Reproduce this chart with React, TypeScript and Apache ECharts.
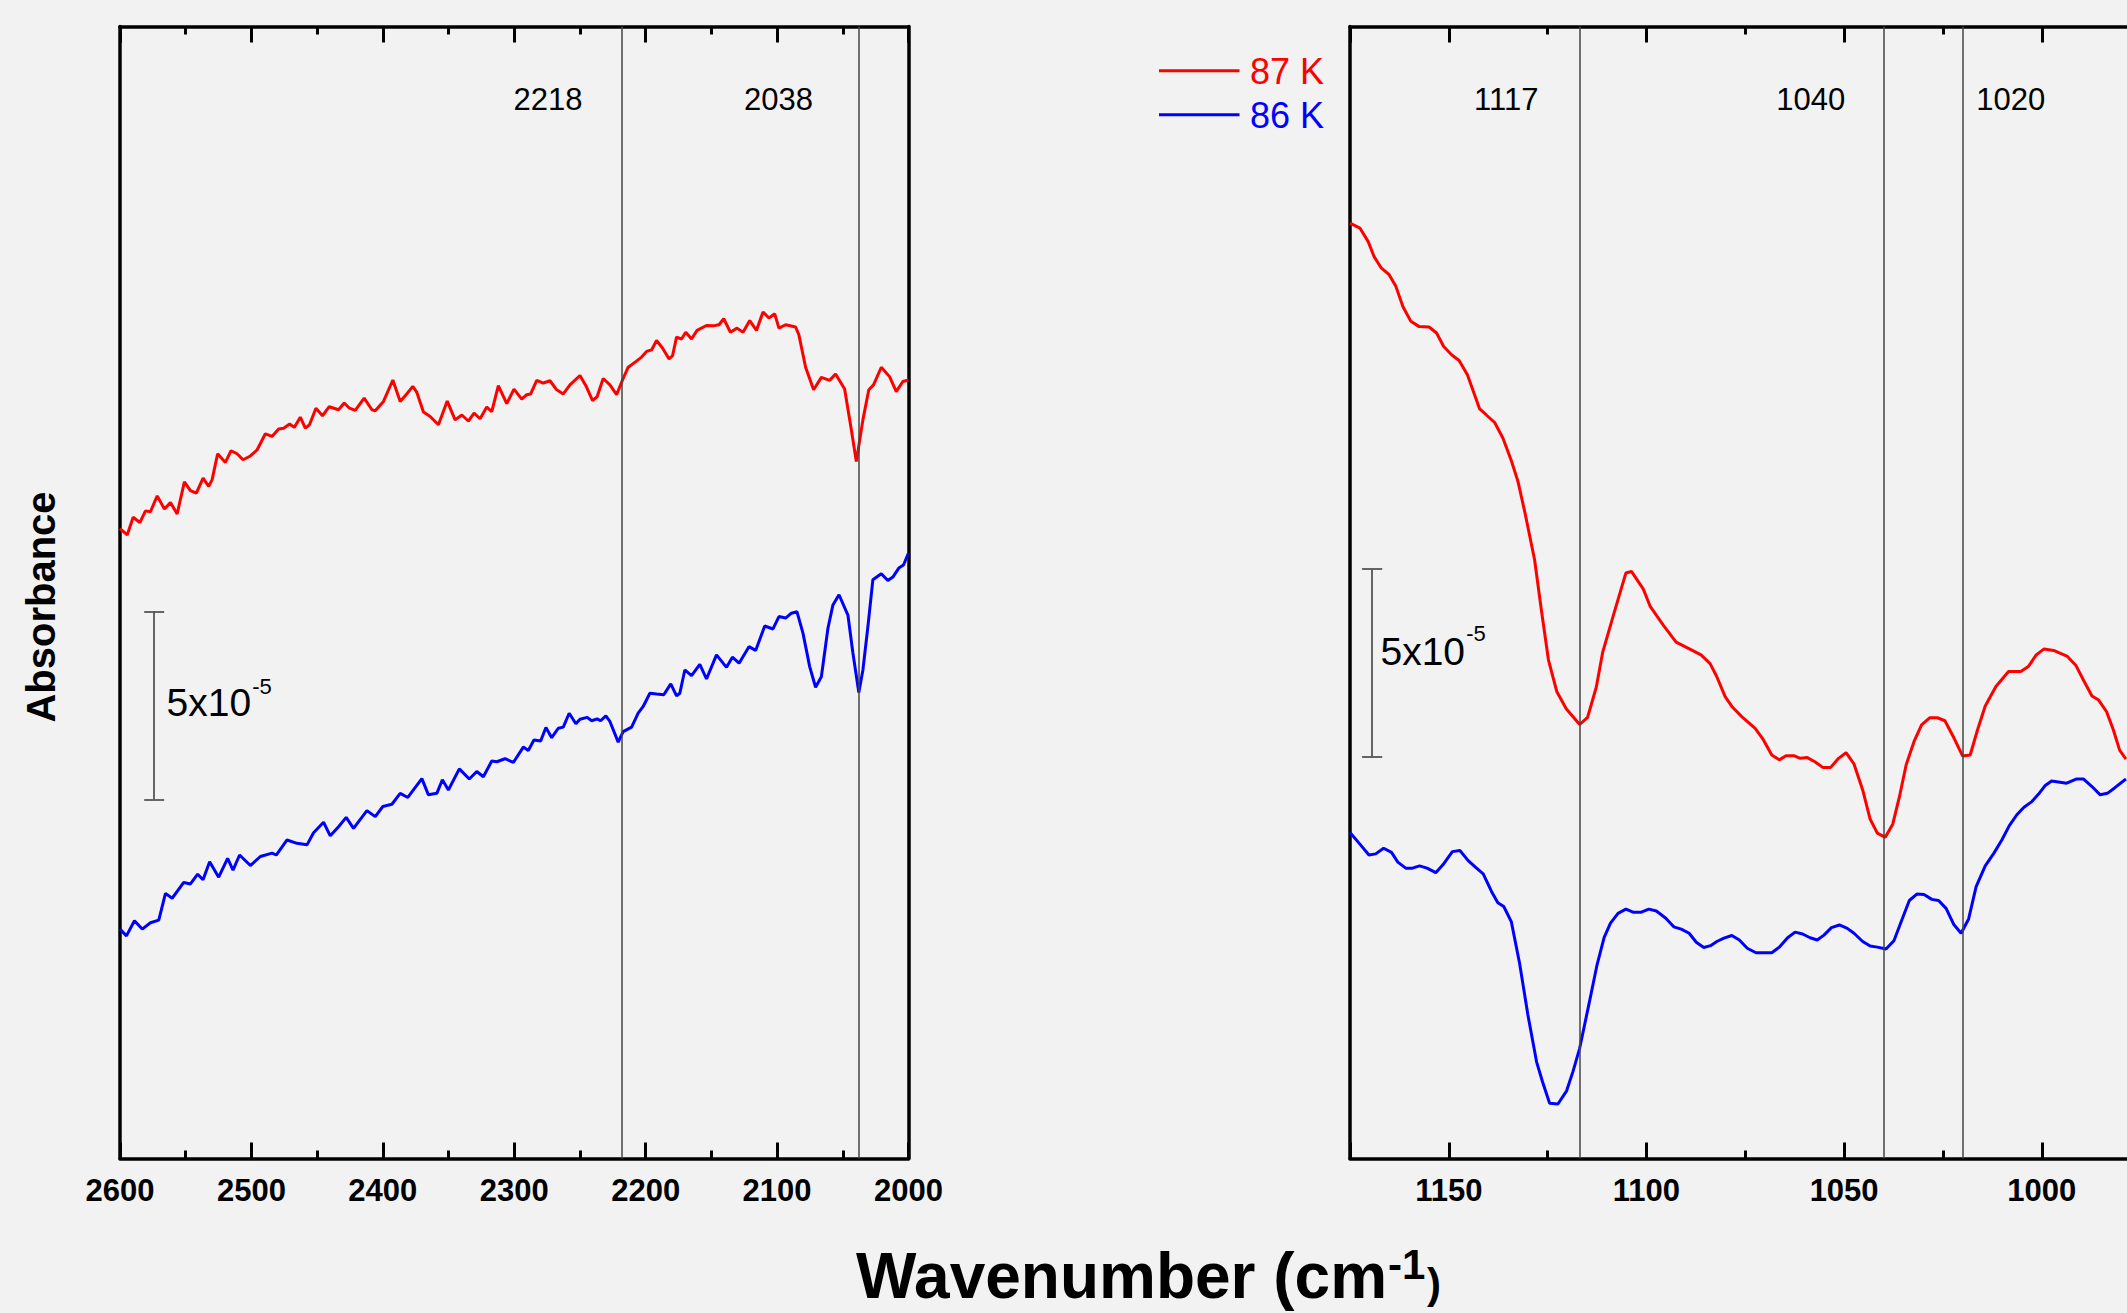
import React, { useEffect, useRef } from "react";
import * as echarts from "echarts";

// ---------- data (wavenumber cm^-1, absorbance in units of 1e-5, arbitrary offset) ----------
const leftRed: number[][] = [
  [2600,16.75],[2594.5,16.58],[2590.0,17.05],[2584.9,16.91],[2580.6,17.22],[2576.8,17.20],[2571.7,17.62],[2566.2,17.27],[2561.6,17.44],[2556.5,17.14],
  [2551.0,17.99],[2546.4,17.76],[2541.9,17.69],[2536.8,18.09],[2532.5,17.87],[2529.9,18.05],[2525.7,18.74],[2519.8,18.51],[2515.5,18.82],[2510.9,18.74],
  [2506.4,18.58],[2500.8,18.68],[2495.7,18.84],[2489.4,19.27],[2484.3,19.20],[2479.3,19.40],[2475.5,19.42],[2470.9,19.53],[2467.4,19.44],[2462.8,19.71],
  [2459.0,19.42],[2455.8,19.51],[2450.9,19.95],[2445.9,19.75],[2440.8,19.99],[2433.7,19.91],[2429.4,20.09],[2425.4,19.95],[2421.0,19.89],[2414.2,20.22],
  [2408.3,19.91],[2405.8,19.88],[2399.5,20.13],[2392.4,20.70],[2386.8,20.13],[2382.3,20.31],[2377.2,20.53],[2374.1,20.37],[2369.1,19.85],[2364.0,19.73],
  [2357.7,19.51],[2351.0,20.14],[2345.0,19.64],[2339.9,19.77],[2334.9,19.61],[2330.6,19.82],[2326.0,19.67],[2320.9,19.98],[2317.1,19.86],[2312.1,20.55],
  [2305.7,20.07],[2300.2,20.46],[2294.3,20.19],[2290.5,20.31],[2287.5,20.33],[2282.9,20.69],[2277.9,20.62],[2272.8,20.68],[2267.7,20.44],[2262.7,20.33],
  [2257.6,20.57],[2250.0,20.82],[2245.5,20.55],[2240.4,20.15],[2236.9,20.26],[2232.3,20.74],[2227.2,20.57],[2222.1,20.31],[2217.6,20.70],[2213.3,21.04],
  [2207.5,21.19],[2203.1,21.31],[2199.3,21.46],[2195.5,21.50],[2191.7,21.75],[2187.2,21.55],[2182.2,21.26],[2179.6,21.34],[2176.5,21.84],[2172.7,21.79],
  [2169.5,21.97],[2165.1,21.79],[2160.9,22.02],[2153.7,22.15],[2148.7,22.14],[2144.2,22.17],[2140.6,22.33],[2135.5,21.97],[2130.5,22.08],[2125.9,21.97],
  [2120.8,22.28],[2115.7,22.02],[2110.7,22.51],[2106.2,22.35],[2101.8,22.46],[2098.6,22.08],[2093.5,22.17],[2085.9,22.11],[2083.4,21.90],[2078.3,21.04],
  [2072.2,20.44],[2066.3,20.77],[2060.0,20.69],[2055.5,20.86],[2048.6,20.46],[2043.5,19.38],[2039.7,18.53],[2034.7,19.64],[2030.2,20.44],[2026.6,20.57],
  [2020.7,21.04],[2014.4,20.79],[2009.3,20.39],[2004.3,20.66],[2000,20.70]
];

const leftBlue: number[][] = [
  [2600,6.10],[2595.1,5.92],[2589.0,6.32],[2583.1,6.10],[2576.8,6.27],[2570.5,6.34],[2565.4,7.05],[2560.3,6.92],[2551.5,7.34],[2546.4,7.30],
  [2540.9,7.56],[2536.8,7.41],[2531.8,7.89],[2524.9,7.48],[2518.1,7.98],[2514.0,7.67],[2509.0,8.07],[2500.8,7.79],[2493.2,8.03],[2484.3,8.12],
  [2481.1,8.07],[2472.9,8.47],[2465.3,8.38],[2457.7,8.34],[2452.7,8.66],[2445.1,8.94],[2440.0,8.58],[2433.7,8.82],[2427.9,9.07],[2422.3,8.78],
  [2412.1,9.25],[2405.8,9.09],[2400.0,9.36],[2393.1,9.42],[2386.8,9.71],[2381.0,9.60],[2370.3,10.10],[2365.3,9.67],[2358.9,9.71],[2354.7,10.07],
  [2350.1,9.80],[2341.8,10.36],[2334.2,10.09],[2328.5,10.29],[2323.5,10.15],[2317.1,10.57],[2313.3,10.55],[2307.0,10.63],[2300.7,10.53],[2293.1,10.94],
  [2289.3,10.85],[2285.0,11.13],[2279.9,11.10],[2275.9,11.46],[2271.5,11.19],[2266.5,11.44],[2262.7,11.47],[2258.2,11.84],[2253.1,11.56],[2250.0,11.68],
  [2244.5,11.73],[2241.1,11.64],[2236.9,11.69],[2234.3,11.64],[2230.3,11.77],[2227.2,11.62],[2220.9,11.07],[2217.1,11.35],[2210.7,11.47],[2205.7,11.84],
  [2201.9,12.02],[2196.8,12.37],[2191.7,12.35],[2186.2,12.33],[2180.9,12.62],[2176.5,12.30],[2174.0,12.37],[2170.2,12.99],[2165.1,12.84],[2158.8,13.14],
  [2153.7,12.75],[2146.1,13.39],[2138.5,13.06],[2134.0,13.33],[2128.9,13.17],[2121.4,13.61],[2116.3,13.51],[2109.4,14.16],[2103.1,14.08],[2098.6,14.41],
  [2093.5,14.37],[2089.1,14.50],[2084.9,14.54],[2080.3,13.97],[2075.2,13.08],[2070.7,12.53],[2066.3,12.81],[2061.3,14.10],[2057.5,14.72],[2052.9,14.99],
  [2046.1,14.45],[2042.3,13.44],[2037.8,12.39],[2034.7,12.99],[2030.9,14.14],[2027.1,15.39],[2020.7,15.55],[2015.7,15.37],[2011.9,15.46],[2007.4,15.70],
  [2003.8,15.78],[2000,16.10]
];

const rightRed: number[][] = [
  [1175,24.87],[1172.5,24.74],[1170.4,24.38],[1168.9,23.98],[1167.1,23.68],[1165.1,23.50],[1163.4,23.19],[1161.6,22.65],[1159.6,22.26],[1157.5,22.12],
  [1155.0,22.11],[1153.1,21.95],[1151.3,21.59],[1149.3,21.37],[1147.4,21.22],[1145.3,20.84],[1142.2,19.93],[1140.5,19.77],[1138.4,19.57],[1136.3,19.15],
  [1134.2,18.56],[1132.5,18.00],[1130.8,17.20],[1128.3,15.92],[1126.6,14.59],[1124.8,13.26],[1122.7,12.42],[1120.3,11.96],[1116.9,11.54],[1114.9,11.73],
  [1112.7,12.53],[1111.1,13.45],[1108.3,14.47],[1105.2,15.57],[1103.8,15.61],[1100.8,15.14],[1099.1,14.69],[1095.8,14.19],[1092.5,13.73],[1088.4,13.51],
  [1086.2,13.39],[1083.9,13.16],[1082.2,12.81],[1080.1,12.28],[1078.4,12.02],[1075.9,11.75],[1072.5,11.44],[1070.4,11.13],[1068.3,10.73],[1066.4,10.60],
  [1064.7,10.71],[1062.7,10.71],[1061.1,10.64],[1059.3,10.66],[1057.4,10.55],[1055.4,10.40],[1053.4,10.40],[1051.4,10.64],[1049.5,10.79],[1047.5,10.49],
  [1045.3,9.80],[1043.4,9.02],[1041.6,8.65],[1039.6,8.54],[1037.7,8.89],[1036.0,9.62],[1034.3,10.47],[1032.3,11.09],[1030.4,11.53],[1028.3,11.72],
  [1026.4,11.72],[1024.5,11.64],[1022.2,11.18],[1020.0,10.70],[1018.1,10.73],[1016.3,11.38],[1014.3,12.03],[1011.6,12.55],[1008.4,12.95],[1005.3,12.95],
  [1003.4,13.08],[1001.4,13.39],[999.4,13.55],[997.0,13.51],[993.5,13.35],[991.3,13.10],[989.4,12.71],[987.3,12.30],[985.6,12.19],[983.6,11.88],
  [981.9,11.40],[980.3,10.86],[978.7,10.62]
];

const rightBlue: number[][] = [
  [1175,8.67],[1172.5,8.36],[1170.2,8.07],[1168.5,8.10],[1166.5,8.25],[1164.5,8.14],[1162.9,7.88],[1160.9,7.72],[1159.2,7.72],[1157.4,7.78],
  [1155.5,7.72],[1153.3,7.60],[1151.5,7.81],[1149.1,8.16],[1147.2,8.19],[1145.1,7.92],[1143.2,7.74],[1141.3,7.57],[1139.2,7.10],[1137.6,6.80],
  [1136.1,6.70],[1134.2,6.30],[1132.1,5.19],[1130.0,3.82],[1127.8,2.57],[1126.3,2.04],[1124.5,1.47],[1122.4,1.45],[1120.2,1.80],[1118.6,2.31],
  [1116.9,2.93],[1114.5,4.13],[1112.5,5.15],[1110.7,5.88],[1109.1,6.26],[1107.2,6.52],[1105.2,6.63],[1103.4,6.55],[1101.3,6.55],[1099.4,6.63],
  [1097.5,6.58],[1095.1,6.39],[1093.1,6.16],[1091.2,6.10],[1089.2,5.99],[1087.4,5.75],[1085.5,5.61],[1083.8,5.66],[1082.2,5.77],[1080.4,5.86],
  [1078.4,5.93],[1076.5,5.81],[1074.5,5.59],[1072.3,5.47],[1068.3,5.47],[1066.4,5.62],[1064.3,5.87],[1062.4,6.02],[1060.5,5.97],[1058.6,5.87],
  [1056.8,5.81],[1055.1,5.94],[1053.2,6.14],[1051.2,6.21],[1049.2,6.12],[1047.5,5.99],[1045.3,5.77],[1043.4,5.65],[1041.6,5.62],[1039.4,5.57],
  [1037.4,5.79],[1035.4,6.34],[1033.5,6.86],[1031.6,7.03],[1029.8,7.02],[1027.8,6.89],[1026.1,6.86],[1024.2,6.65],[1022.3,6.23],[1020.4,5.99],
  [1018.5,6.37],[1016.6,7.23],[1014.3,7.78],[1012.1,8.12],[1010.1,8.47],[1008.2,8.85],[1006.3,9.14],[1004.5,9.34],[1002.5,9.49],[1000.8,9.69],
  [999.2,9.91],[997.5,10.04],[993.7,9.98],[991.3,10.09],[989.4,10.09],[987.3,9.89],[985.2,9.67],[983.4,9.71],[981.5,9.86],[978.7,10.09]
];

const seriesNames = ["87 K", "86 K"];
const leftMarkers = [2218, 2038];
const rightMarkers = [1117, 1040, 1020];
const leftTicks = { min: 2000, max: 2600, major: 100 };
const rightTicks = { min: 950, max: 1175, major: 50, minor: 25, firstLabel: 1000 };
const yRange = { min: 0, max: 30.1 };
const scaleBarSize = 5; // 5 x 10^-5
const leftScaleBar = { wn: 2574, from: 9.55 };
const rightScaleBar = { wn: 1169.4, from: 10.67 };

// ---------- styles ----------
const FONT = "'Liberation Sans', Arial, Helvetica, sans-serif";
const RED = "#ff0000";
const BLUE = "#0000ff";
const BG = "#f2f2f2";
const AXIS_W = 3.5;
const TICK_W = 3;
const LINE_W = 3;
const markerLabelDx: Record<number, number> = { 2218: -74, 2038: -80, 1117: -73, 1040: -73, 1020: 48 };

const baseX = (grid: number, min: number, max: number, interval: number, pos: "top" | "bottom", labels: boolean, lineShow: boolean, tickLen: number, lowestLabel = -Infinity) => ({
  type: "value",
  gridIndex: grid,
  position: pos,
  min,
  max,
  inverse: true,
  interval,
  axisLine: { show: lineShow, onZero: false, lineStyle: { color: "#000", width: AXIS_W } },
  axisTick: { show: true, inside: true, length: tickLen, lineStyle: { color: "#000", width: TICK_W } },
  axisLabel: {
    show: labels,
    margin: 16,
    color: "#000",
    fontSize: 31,
    fontWeight: "bold",
    fontFamily: FONT,
    showMinLabel: true,
    showMaxLabel: true,
    formatter: (v: number) => (v % interval === 0 && v >= lowestLabel ? String(v) : ""),
  },
  splitLine: { show: false },
});

const baseY = (grid: number, pos: "left" | "right") => ({
  type: "value",
  gridIndex: grid,
  position: pos,
  min: yRange.min,
  max: yRange.max,
  axisLine: { show: true, onZero: false, lineStyle: { color: "#000", width: AXIS_W } },
  axisTick: { show: false },
  axisLabel: { show: false },
  splitLine: { show: false },
});

const scaleBarLines = (wn: number, from: number, halfCap: number) => {
  const to = from + scaleBarSize;
  return [
    [{ coord: [wn, from] }, { coord: [wn, to] }],
    [{ coord: [wn + halfCap, from] }, { coord: [wn - halfCap, from] }],
    [{ coord: [wn + halfCap, to] }, { coord: [wn - halfCap, to] }],
  ];
};

const markerLine = (values: number[]) => ({
  silent: true,
  symbol: ["none", "none"],
  label: { show: false },
  emphasis: { disabled: true },
  lineStyle: { color: "#444", width: 1.5, type: "solid" },
  data: values.map((v) => ({ xAxis: v })),
});

const scaleMark = (lines: any[]) => ({
  silent: true,
  symbol: ["none", "none"],
  label: { show: false },
  emphasis: { disabled: true },
  lineStyle: { color: "#555", width: 1.8, type: "solid" },
  data: lines,
});

const lineSeries = (name: string, data: number[][], color: string, xi: number, yi: number, markLine: any) => ({
  type: "line",
  name,
  xAxisIndex: xi,
  yAxisIndex: yi,
  data,
  showSymbol: false,
  symbol: "none",
  lineStyle: { color, width: LINE_W },
  itemStyle: { color },
  emphasis: { disabled: true },
  markLine,
});

const text = (x: number, y: number, t: string, size: number, opts: any = {}) => ({
  type: "text",
  x,
  y,
  silent: true,
  rotation: opts.rotation || 0,
  style: {
    text: t,
    fill: opts.color || "#000",
    fontSize: size,
    fontWeight: opts.weight || "normal",
    fontFamily: FONT,
    align: opts.align || "left",
    textAlign: opts.align || "left",
    verticalAlign: "middle",
    textVerticalAlign: "middle",
  },
});

export default function App() {
  const ref = useRef<HTMLDivElement>(null);

  useEffect(() => {
    if (!ref.current) return;
    const chart = echarts.init(ref.current, null, { renderer: "svg" });

    const minorLeft = { show: true, splitNumber: 2, length: 8, lineStyle: { color: "#000", width: TICK_W } };
    const option: any = {
      animation: false,
      backgroundColor: BG,
      grid: [
        { left: 120, top: 26.5, width: 788.5, height: 1132 },
        { left: 1350, top: 26.5, width: 889.4, height: 1132 },
      ],
      xAxis: [
        { ...baseX(0, leftTicks.min, leftTicks.max, leftTicks.major, "bottom", true, true, 16), minorTick: minorLeft },
        { ...baseX(0, leftTicks.min, leftTicks.max, leftTicks.major, "top", false, true, 16), minorTick: minorLeft },
        baseX(1, rightTicks.min, rightTicks.max, rightTicks.major, "bottom", true, true, 16, rightTicks.firstLabel),
        baseX(1, rightTicks.min, rightTicks.max, rightTicks.major, "top", false, true, 16),
        baseX(1, rightTicks.min, rightTicks.max, rightTicks.minor, "bottom", false, false, 8),
        baseX(1, rightTicks.min, rightTicks.max, rightTicks.minor, "top", false, false, 8),
      ],
      yAxis: [baseY(0, "left"), baseY(0, "right"), baseY(1, "left"), baseY(1, "right")],
      series: [
        lineSeries(seriesNames[0], leftRed, RED, 0, 0, markerLine(leftMarkers)),
        lineSeries(seriesNames[1], leftBlue, BLUE, 0, 0, scaleMark(scaleBarLines(leftScaleBar.wn, leftScaleBar.from, 7.6))),
        lineSeries(seriesNames[0], rightRed, RED, 2, 2, markerLine(rightMarkers)),
        lineSeries(seriesNames[1], rightBlue, BLUE, 2, 2, scaleMark(scaleBarLines(rightScaleBar.wn, rightScaleBar.from, 2.55))),
      ],
    };
    chart.setOption(option);

    const px = (ax: number, v: number) => chart.convertToPixel({ xAxisIndex: ax }, v) as number;
    const py = (ax: number, v: number) => chart.convertToPixel({ yAxisIndex: ax }, v) as number;

    const elements: any[] = [];
    // marker labels
    leftMarkers.forEach((m) => elements.push(text(px(0, m) + markerLabelDx[m], 99, String(m), 31, { align: "center" })));
    rightMarkers.forEach((m) => elements.push(text(px(2, m) + markerLabelDx[m], 99, String(m), 31, { align: "center" })));

    // scale bar labels
    const lbx = px(0, leftScaleBar.wn);
    const lby = py(0, leftScaleBar.from + scaleBarSize / 2);
    elements.push(text(lbx + 12.4, lby - 3.3, "5x10", 39));
    elements.push(text(lbx + 98, lby - 19, "-5", 22));
    const rbx = px(2, rightScaleBar.wn);
    const rby = py(2, rightScaleBar.from + scaleBarSize / 2);
    elements.push(text(rbx + 8.3, rby - 11.7, "5x10", 39));
    elements.push(text(rbx + 94, rby - 29.5, "-5", 22));

    // legend
    const legendColors = [RED, BLUE];
    const legendY = [70.7, 114.8];
    seriesNames.forEach((n, i) => {
      elements.push({
        type: "line",
        silent: true,
        shape: { x1: 1159, y1: legendY[i], x2: 1239.5, y2: legendY[i] },
        style: { stroke: legendColors[i], lineWidth: LINE_W },
      });
      elements.push(text(1250, legendY[i] + 0.5, n, 36, { color: legendColors[i] }));
    });

    // axis titles
    elements.push(text(856, 1276, "Wavenumber (cm", 64, { weight: "bold" }));
    elements.push(text(1388, 1264, "-1", 42, { weight: "bold" }));
    elements.push(text(1427, 1283, ")", 42, { weight: "bold" }));
    elements.push(text(41, 607, "Absorbance", 40, { weight: "bold", align: "center", rotation: Math.PI / 2 }));

    chart.setOption({ graphic: elements });

    return () => chart.dispose();
  }, []);

  return (
    <div style={{ position: "fixed", left: 0, top: 0, width: 2127, height: 1313, overflow: "hidden", background: BG }}>
      <div ref={ref} style={{ width: 2300, height: 1313 }} />
    </div>
  );
}
